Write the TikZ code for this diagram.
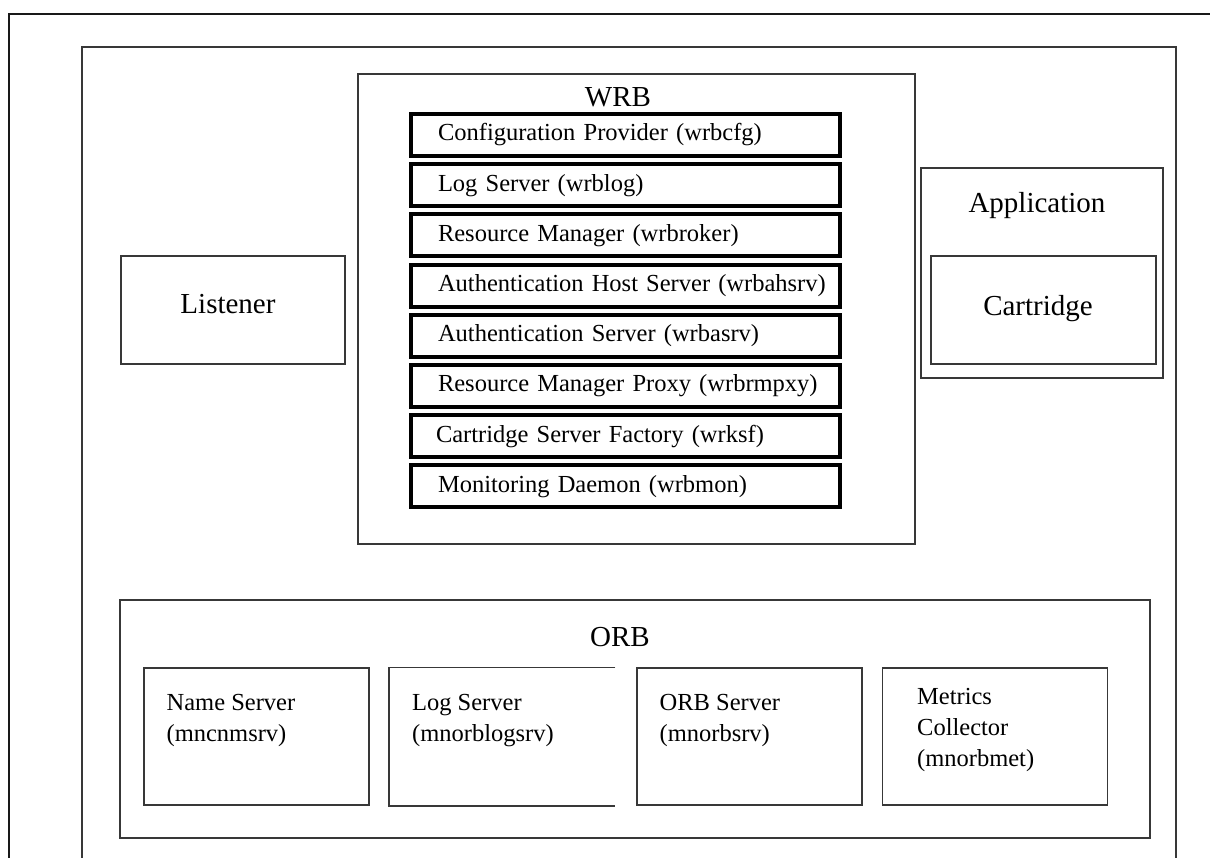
\documentclass[tikz,border=0pt]{standalone}
\usepackage{fontspec}
\setmainfont{Liberation Serif}
\begin{document}
\begin{tikzpicture}[x=0.5pt,y=-0.5pt,
  frame/.style={draw=black!90, line width=1pt},
  panel/.style={draw=black!78, line width=0.75pt, inner sep=0pt},
  ttl/.style={font=\fontsize{14.5}{17}\selectfont, inner sep=0pt},
  svcbox/.style={draw=black, line width=2pt, minimum width=214.5pt, minimum height=21pt,
    text width=187.5pt, inner xsep=13.5pt, inner ysep=0pt, align=left,
    font=\fontsize{12.25}{15}\selectfont},
  orbbox/.style={panel, minimum width=112.5pt, minimum height=68.5pt},
  orbtxt/.style={anchor=west, inner sep=0pt, align=left,
    font=\fontsize{12.25}{15.5}\selectfont}
]
\useasboundingbox (0,0) rectangle (1210,857);
\fill[white] (0,0) rectangle (1210,857);

% page frame and inner panel, both running off the page
\begin{scope}
  \clip (0,0) rectangle (1210,857);
  \coordinate (fbl) at (9,870);
  \coordinate (ftr) at (1240,14);
  \draw[frame] (fbl) |- (ftr);
  \coordinate (pbl) at (82,870);
  \coordinate (ptr) at (1176,47);
  \coordinate (pbr) at (1176,870);
  \draw[panel] (pbl) |- (ptr) -- (pbr);
\end{scope}

% Listener
\node[panel, minimum width=112pt, minimum height=54pt] (listener) at (233,310) {};
\node[ttl] (listenertxt) at (228,304) {Listener};

% WRB container and its services
\node[panel, minimum width=278.5pt, minimum height=235pt] (wrb) at (636.5,309) {};
\node[ttl] (wrbtitle) at (618,97) {WRB};
\node[svcbox] (s1) at (625.5,135.0) {\mbox{Configuration Provider (wrbcfg)}};
\node[svcbox] (s2) at (625.5,185.2) {\mbox{Log Server (wrblog)}};
\node[svcbox] (s3) at (625.5,235.4) {\mbox{Resource Manager (wrbroker)}};
\node[svcbox] (s4) at (625.5,285.6) {\mbox{Authentication Host Server (wrbahsrv)}};
\node[svcbox] (s5) at (625.5,335.8) {\mbox{Authentication Server (wrbasrv)}};
\node[svcbox] (s6) at (625.5,386.0) {\mbox{Resource Manager Proxy (wrbrmpxy)}};
\node[svcbox, inner xsep=12.5pt, text width=189.5pt] (s7) at (625.5,436.2) {\mbox{Cartridge Server Factory (wrksf)}};
\node[svcbox] (s8) at (625.5,486.4) {\mbox{Monitoring Daemon (wrbmon)}};

% Application with its cartridge
\node[panel, minimum width=121pt, minimum height=105pt] (app) at (1042,273) {};
\node[ttl] (apptitle) at (1037,206) {Application};
\node[panel, minimum width=112.5pt, minimum height=54pt] (cart) at (1043.5,310) {};
\node[ttl] (carttxt) at (1038,309) {Cartridge};

% ORB container and its servers
\node[panel, minimum width=515pt, minimum height=119pt] (orb) at (635,719) {};
\node[ttl] (orbtitle) at (620,637) {ORB};

\node[orbbox] (names) at (256.5,736.5) {};
\node[orbtxt] (namestxt) at ([xshift=11.5pt, yshift=8pt]names.west) {Name Server\\(mncnmsrv)};

\node[orbbox, draw=none] (logs) at (502,736.5) {};
\draw[panel] (logs.north east) -- (logs.north west) -- (logs.south west) -- (logs.south east);
\node[orbtxt] (logstxt) at ([xshift=11.5pt, yshift=8pt]logs.west) {Log Server\\(mnorblogsrv)};

\node[orbbox] (orbsrv) at (749.5,736.5) {};
\node[orbtxt] (orbsrvtxt) at ([xshift=11.5pt, yshift=8pt]orbsrv.west) {ORB Server\\(mnorbsrv)};

\node[orbbox] (metrics) at (995,736.5) {};
\node[orbtxt] (metricstxt) at ([xshift=17.5pt, yshift=3.5pt]metrics.west) {Metrics\\Collector\\(mnorbmet)};
\end{tikzpicture}
\end{document}
